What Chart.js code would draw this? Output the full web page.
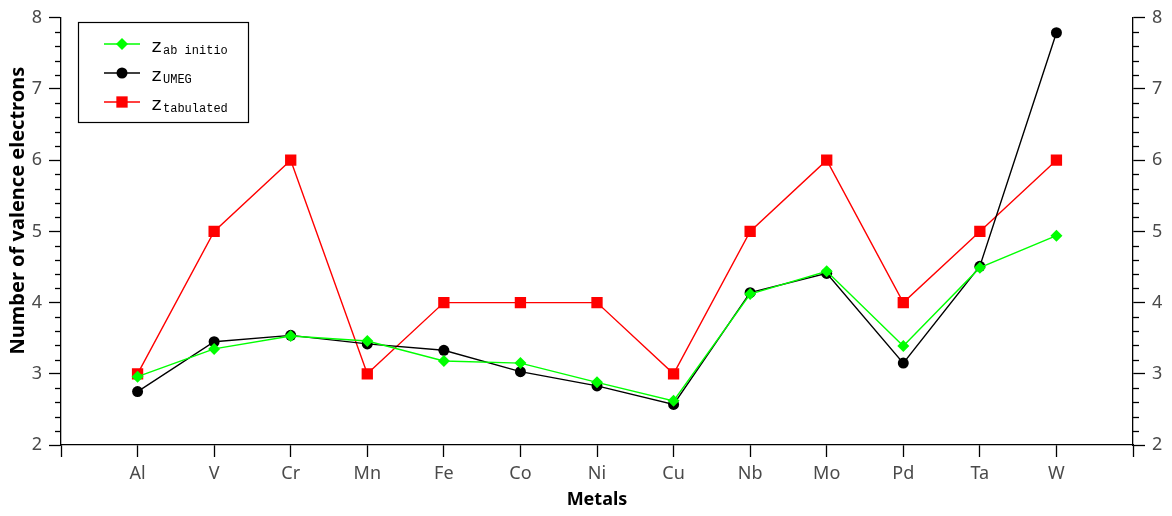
<!DOCTYPE html>
<html>
<head>
<meta charset="utf-8">
<script src="https://cdn.jsdelivr.net/npm/chart.js@4/dist/chart.umd.min.js"></script>
<style>
  html, body { margin: 0; padding: 0; background: #fff; }
  #wrap { width: 1172px; height: 516px; }
</style>
</head>
<body>
<div id="wrap"><canvas id="c" width="1172" height="516"></canvas></div>
<script>
const metals = ["Al", "V", "Cr", "Mn", "Fe", "Co", "Ni", "Cu", "Nb", "Mo", "Pd", "Ta", "W"];
const zAbInitio = [2.96, 3.35, 3.53, 3.46, 3.18, 3.15, 2.88, 2.62, 4.12, 4.44, 3.39, 4.49, 4.94];
const zUmeg = [2.75, 3.45, 3.54, 3.42, 3.33, 3.03, 2.83, 2.57, 4.14, 4.41, 3.15, 4.51, 7.79];
const zTabulated = [3, 5, 6, 3, 4, 4, 4, 3, 5, 6, 4, 5, 6];
const yTicks = [2, 3, 4, 5, 6, 7, 8];

const FONT = "'Noto Sans', sans-serif";
const MONO = "'Liberation Mono', monospace";

const pts = (arr) => arr.map((v, i) => ({ x: i + 1, y: v }));

const series = [
  { sub: "ab initio", data: zAbInitio, color: "#00ff00", style: "rectRot", r: 6 },
  { sub: "UMEG", data: zUmeg, color: "#000000", style: "circle", r: 5.5 },
  { sub: "tabulated", data: zTabulated, color: "#ff0000", style: "rect", r: 8 }
];

// small ticks every 0.2 on both vertical axes
const minorTicks = {
  id: "minorTicks",
  afterDraw(chart) {
    const ctx = chart.ctx;
    ctx.save();
    ctx.strokeStyle = "#000";
    ctx.lineWidth = 1.3;
    for (const id of ["y", "y2"]) {
      const s = chart.scales[id];
      const x0 = id === "y" ? chart.chartArea.left : chart.chartArea.right;
      const dir = id === "y" ? -1 : 1;
      for (let k = 10; k <= 40; k++) {
        if (k % 5 === 0) continue;
        const py = Math.round(s.getPixelForValue(k / 5)) + 0.5;
        ctx.beginPath();
        ctx.moveTo(x0, py);
        ctx.lineTo(x0 + dir * 6, py);
        ctx.stroke();
      }
    }
    ctx.restore();
  }
};

// legend box with subscripted labels
const subLegend = {
  id: "subLegend",
  afterDraw(chart) {
    const ctx = chart.ctx;
    ctx.save();
    ctx.strokeStyle = "#000";
    ctx.lineWidth = 1.2;
    ctx.strokeRect(78.5, 22.5, 170, 100);
    series.forEach((s, i) => {
      const y = 44 + i * 29;
      ctx.strokeStyle = s.color;
      ctx.fillStyle = s.color;
      ctx.lineWidth = 1.4;
      ctx.beginPath();
      ctx.moveTo(104, y);
      ctx.lineTo(140, y);
      ctx.stroke();
      if (Chart.helpers && Chart.helpers.drawPoint) {
        Chart.helpers.drawPoint(ctx, { pointStyle: s.style, radius: s.r, rotation: 0, borderWidth: 0 }, 122, y);
      }
      ctx.fillStyle = "#000";
      ctx.textBaseline = "alphabetic";
      ctx.font = "19px " + MONO;
      ctx.fillText("z", 151, y + 8);
      ctx.font = "12px " + MONO;
      ctx.fillText(s.sub, 163, y + 10);
    });
    ctx.restore();
  }
};

const yAxis = (pos, width) => ({
  type: "linear",
  position: pos,
  min: 2,
  max: 8,
  afterFit: (sc) => { sc.width = width; },
  afterBuildTicks: (sc) => { sc.ticks = yTicks.map(v => ({ value: v })); },
  border: { display: true, color: "#000", width: 1.3 },
  grid: { drawOnChartArea: false, tickLength: 12, tickColor: "#000", tickWidth: 1.3 },
  ticks: { color: "#4a4a4a", font: { family: FONT, size: 18 }, padding: 7 }
});

new Chart(document.getElementById("c"), {
  type: "line",
  data: {
    datasets: series.map(s => ({
      label: "z " + s.sub,
      data: pts(s.data),
      borderColor: s.color,
      backgroundColor: s.color,
      borderWidth: 1.4,
      pointStyle: s.style,
      pointRadius: s.r,
      pointHoverRadius: s.r,
      pointBorderWidth: 0,
      tension: 0
    }))
  },
  options: {
    responsive: false,
    animation: false,
    layout: { padding: { top: 15, left: 0, right: 0, bottom: 0 } },
    plugins: { legend: { display: false }, tooltip: { enabled: false } },
    scales: {
      x: {
        type: "linear",
        min: 0,
        max: 14,
        afterFit: (sc) => { sc.height = 71; },
        border: { display: true, color: "#000", width: 1.3 },
        grid: { drawOnChartArea: false, tickLength: 12, tickColor: "#000", tickWidth: 1.3 },
        ticks: {
          stepSize: 1,
          autoSkip: false,
          maxRotation: 0,
          color: "#4a4a4a",
          font: { family: FONT, size: 18 },
          padding: 6,
          callback: (v) => metals[v - 1] || ""
        },
        title: {
          display: true,
          text: "Metals",
          color: "#000",
          font: { family: FONT, size: 18, weight: "bold" },
          padding: { top: 0, bottom: 5 }
        }
      },
      y: Object.assign(yAxis("left", 61), {
        title: {
          display: true,
          // leading spaces lift the label a little above the axis middle
          text: "        Number of valence electrons",
          color: "#000",
          font: { family: FONT, size: 20, weight: "bold" },
          padding: { top: 6, bottom: 0 }
        }
      }),
      y2: yAxis("right", 39)
    }
  },
  plugins: [minorTicks, subLegend]
});
</script>
</body>
</html>
